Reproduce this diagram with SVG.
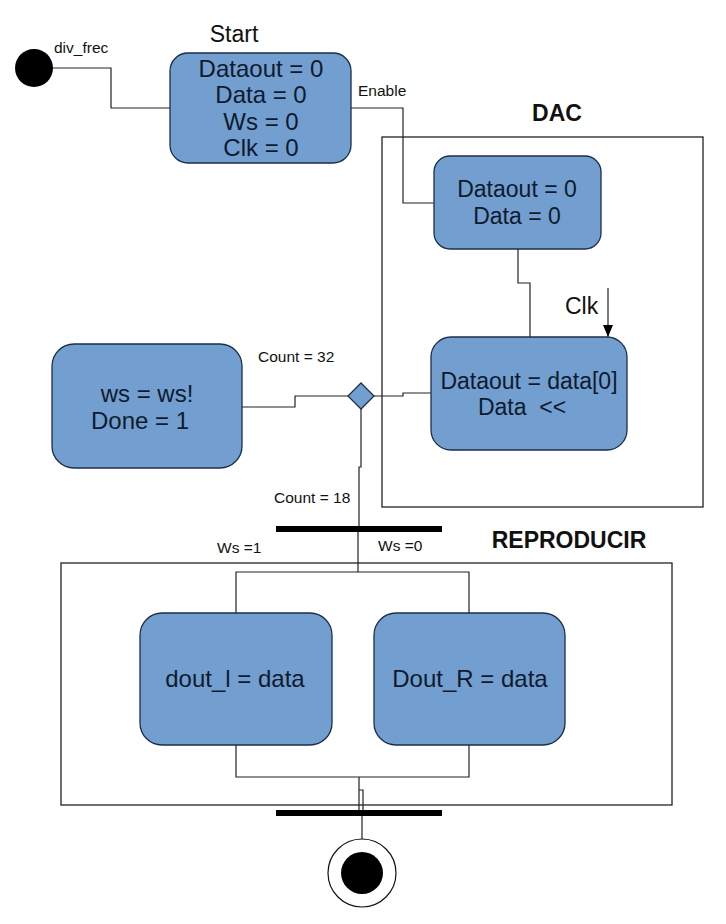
<svg xmlns="http://www.w3.org/2000/svg" width="726" height="924" viewBox="0 0 726 924">
<style>
.box{fill:#729fcf;stroke:#1c2f4a;stroke-width:1.3}
.t{font-family:"Liberation Sans",Arial,sans-serif;fill:#0f1a2e;text-anchor:middle}
.big{font-size:24px}
.mid{font-size:23px}
.lbl{font-family:"Liberation Sans",Arial,sans-serif;font-size:15.5px;fill:#111}
.ttl{font-family:"Liberation Sans",Arial,sans-serif;font-size:23px;font-weight:bold;fill:#111}
.ln{fill:none;stroke:#222;stroke-width:1.2}
.frame{fill:none;stroke:#222;stroke-width:1.3}
.bar{fill:#000}
</style>
<defs>
<marker id="ah" markerWidth="12" markerHeight="10" refX="12" refY="5" orient="auto" markerUnits="userSpaceOnUse" viewBox="0 0 12 10">
<path d="M0,0 L12,5 L0,10 z" fill="#000"/>
</marker>
</defs>
<rect width="726" height="924" fill="#fff"/>
<g id="frames">
<rect class="frame" x="382" y="137" width="321" height="370"/>
<text class="ttl" x="557" y="121" text-anchor="middle">DAC</text>
<rect class="frame" x="61" y="563" width="611" height="242"/>
<text class="ttl" x="569" y="548" text-anchor="middle">REPRODUCIR</text>
</g>
<g id="connectors">
<path class="ln" d="M53,68 H111 V108 H170"/>
<path class="ln" d="M351,108 H403 V203 H434"/>
<path class="ln" d="M518,249 V283 H530 V337"/>
<path class="ln" d="M608,288 V337" marker-end="url(#ah)"/>
<path class="ln" d="M431,393 H403 V396 H374"/>
<path class="ln" d="M348,396 H295 V407 H242"/>
<path class="ln" d="M361,409 V467 H359 V528"/>
<path class="ln" d="M358,532 V572 M236,613 V572 H469 V613"/>
<path class="ln" d="M236,745 V777 H469 V745 M359,777 V811 M359,790 H363 V811"/>
<path class="ln" d="M362,816 V839"/>
<text class="lbl" x="54" y="53">div_frec</text>
<text class="lbl" x="358" y="96">Enable</text>
<text class="lbl" x="258" y="362">Count = 32</text>
<text class="lbl" x="274" y="503">Count = 18</text>
<text class="lbl" x="217" y="553">Ws =1</text>
<text class="lbl" x="378" y="551">Ws =0</text>
<text class="lbl" x="565" y="314" style="font-size:23px">Clk</text>
</g>
<g id="initial"><circle cx="34" cy="68" r="19" fill="#000"/></g>
<g id="start">
<text class="t" x="234" y="42" style="font-size:23px;fill:#111">Start</text>
<rect class="box" x="170" y="53" width="181" height="110" rx="18"/>
<text class="t big" x="261" y="77">Dataout = 0</text>
<text class="t big" x="261" y="103">Data = 0</text>
<text class="t big" x="261" y="130">Ws = 0</text>
<text class="t big" x="261" y="156">Clk = 0</text>
</g>
<g id="dac1">
<rect class="box" x="434" y="156" width="167" height="93" rx="16"/>
<text class="t mid" x="517" y="197">Dataout = 0</text>
<text class="t mid" x="517" y="224">Data = 0</text>
</g>
<g id="dac2">
<rect class="box" x="431" y="337" width="196" height="113" rx="20"/>
<text class="t mid" x="529" y="389">Dataout = data[0]</text>
<text class="t mid" x="522" y="415" style="white-space:pre">Data  &lt;&lt;</text>
</g>
<g id="decision"><path class="box" d="M361,383 L374,396 L361,409 L348,396 z"/></g>
<g id="ws">
<rect class="box" x="52" y="344" width="190" height="124" rx="22"/>
<text class="t big" x="147" y="402">ws = ws!</text>
<text class="t big" x="140" y="429">Done = 1</text>
</g>
<g id="fork"><rect class="bar" x="276" y="526" width="166" height="6"/></g>
<g id="doutl">
<rect class="box" x="140" y="613" width="192" height="132" rx="22"/>
<text class="t big" x="235" y="687">dout_l = data</text>
</g>
<g id="doutr">
<rect class="box" x="374" y="613" width="191" height="132" rx="22"/>
<text class="t big" x="470" y="687">Dout_R = data</text>
</g>
<g id="join"><rect class="bar" x="276" y="810" width="166" height="6"/></g>
<g id="final">
<circle cx="362" cy="873" r="34" fill="#fff" stroke="#111" stroke-width="1.2"/>
<circle cx="362" cy="873" r="21" fill="#000"/>
</g>
</svg>
